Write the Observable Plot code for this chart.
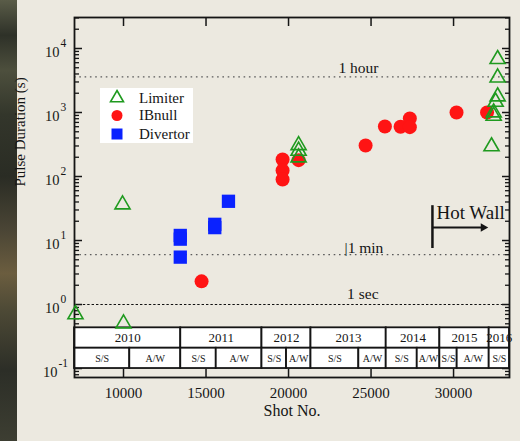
<!DOCTYPE html>
<html><head><meta charset="utf-8">
<script src="https://cdn.jsdelivr.net/npm/d3@7"></script>
<script src="https://cdn.jsdelivr.net/npm/@observablehq/plot@0.6"></script>
<style>
html,body{margin:0;padding:0;background:#ECE9E0;}
#wrap{position:relative;width:520px;height:441px;overflow:hidden;background:#ECE9E0;font-family:"Liberation Serif","Times New Roman",serif;}
#strip{position:absolute;left:0;top:0;width:17px;height:441px;
background:linear-gradient(to bottom,#5a5c48 0%,#2e3128 8%,#4d4f3d 16%,#33362b 26%,#2a2c24 40%,#4a4535 52%,#6b5d3f 62%,#4e4a36 70%,#2c2e27 84%,#3d3e32 100%);}
#chart{position:absolute;left:0;top:0;}
#legend{position:absolute;left:100px;top:88px;}
</style></head>
<body><div id="wrap"><div id="strip"></div><div id="chart"></div><div id="legend"></div></div>
<script>
// ---- data ----
const seriesNames = ["Limiter", "IBnull", "Divertor"];
const seriesColors = ["#1f9a1f", "#ff1414", "#0a22ff"];

const limiterShot = [7090, 10000, 9940, 20610, 20610, 20610, 32670, 32670, 32670, 32550, 32430, 32430, 32300];
const limiterSec  = [0.70, 0.505, 36.5, 308, 251, 198, 6800, 3500, 1780, 1465, 1000, 885, 295];

const ibnullShot = [14730, 19640, 19640, 19640, 20610, 24670, 25840, 26790, 27350, 27350, 30180, 32030];
const ibnullSec  = [2.3, 184, 124, 90, 180, 305, 604, 600, 805, 590, 1000, 1000];

const divertorShot = [13440, 13440, 13440, 15530, 15530, 16360];
const divertorSec  = [12, 10.5, 5.5, 17.9, 15.9, 41];

const refValues = [3600, 6, 1];
const refLabels = ["1 hour", "|1 min", "1 sec"];
const refLabelShot = [24240, 24570, 24500];

const years = ["2010", "2011", "2012", "2013", "2014", "2015", "2016"];
const yearStart = [7030, 13470, 18390, 21360, 25920, 29170, 32160];
const yearEnd   = [13470, 18390, 21360, 25920, 29170, 32160, 33390];
const seasonLabels = ["S/S","A/W","S/S","A/W","S/S","A/W","S/S","A/W","S/S","A/W","S/S","A/W","S/S"];
const seasonBreaks = [7030, 10380, 13470, 15620, 18390, 19880, 21360, 24260, 25920, 27800, 29170, 30220, 32160, 33390];
const tableRows = [0.4325, 0.2075, 0.1];

const hotWallLabel = "Hot Wall";
const hotWallShot = 28720, hotWallEnd = 31800, hotWallTop = 35, hotWallBottom = 7.5, hotWallArrow = 16, hotWallText = 27.4;

const xTicks = [10000, 15000, 20000, 25000, 30000];
const yTickVals = [0.1, 1, 10, 100, 1000, 10000];
const yTickExp = ["-1", "0", "1", "2", "3", "4"];

const xDomain = [7030, 33390];
const yDomain = [0.0724, 30500];

// ---- derived ----
const minorY = [];
for (let e = -2; e <= 4; e++) for (let k = 2; k <= 9; k++) {
  const v = k * Math.pow(10, e);
  if (v >= yDomain[0] && v <= yDomain[1]) minorY.push(v);
}
const limiter = limiterShot.map((s, i) => ({shot: s, sec: limiterSec[i]}));
const ibnull = ibnullShot.map((s, i) => ({shot: s, sec: ibnullSec[i]}));
const divertor = divertorShot.map((s, i) => ({shot: s, sec: divertorSec[i]}));
const yearCells = years.map((y, i) => ({label: y, start: yearStart[i], end: yearEnd[i]}));
const seasonCells = seasonLabels.map((l, i) => ({label: l, start: seasonBreaks[i], end: seasonBreaks[i + 1]}));
const yTicks = yTickVals.map((v, i) => ({v, exp: yTickExp[i]}));
const refs = refValues.map((v, i) => ({v, label: refLabels[i], shot: refLabelShot[i]}));
const hw = [{x: hotWallShot, end: hotWallEnd, top: hotWallTop, bottom: hotWallBottom, arrow: hotWallArrow, text: hotWallText, label: hotWallLabel}];

const ink = "#151515";
const fam = "'Liberation Serif', 'Times New Roman', serif";

const chart = Plot.plot({
  width: 520, height: 441,
  marginLeft: 74, marginRight: 11, marginTop: 17, marginBottom: 64,
  style: {background: "transparent", fontFamily: fam, color: ink, overflow: "visible"},
  x: {domain: xDomain, label: null},
  y: {type: "log", domain: yDomain, label: null},
  marks: [
    Plot.ruleY(refs.slice(0, 2), {y: "v", stroke: "#5a5a5a", strokeWidth: 1.3, strokeDasharray: "1.6,3.7"}),
    Plot.ruleY(refs.slice(2), {y: "v", stroke: "#111", strokeWidth: 1.1, strokeDasharray: "2.4,2"}),
    Plot.axisY(yTickVals, {anchor: "left", tickSize: -8, tickFormat: () => "", strokeWidth: 1.5, stroke: ink}),
    Plot.axisY(minorY, {anchor: "left", tickSize: -5, tickFormat: () => "", strokeWidth: 1.3, stroke: ink}),
    Plot.axisY(yTickVals, {anchor: "right", tickSize: -8, tickFormat: () => "", strokeWidth: 1.5, stroke: ink}),
    Plot.axisY(minorY, {anchor: "right", tickSize: -5, tickFormat: () => "", strokeWidth: 1.3, stroke: ink}),
    Plot.axisX(xTicks, {anchor: "bottom", tickSize: -8, tickPadding: 17.5, fontSize: 15, tickFormat: d => String(d), strokeWidth: 1.5, stroke: ink, fill: ink}),
    Plot.axisX(xTicks, {anchor: "top", tickSize: -8, tickFormat: () => "", strokeWidth: 1.5, stroke: ink}),
    // table
    Plot.rect(yearCells, {x1: "start", x2: "end", y1: tableRows[1], y2: tableRows[0], fill: "white", stroke: ink, strokeWidth: 1.8}),
    Plot.rect(seasonCells, {x1: "start", x2: "end", y1: tableRows[2], y2: tableRows[1], fill: "white", stroke: ink, strokeWidth: 1.8}),
    Plot.text(yearCells, {x: d => (d.start + d.end) / 2, y: Math.sqrt(tableRows[0] * tableRows[1]), text: "label", fontSize: 13, fill: ink}),
    Plot.text(seasonCells, {x: d => (d.start + d.end) / 2, y: Math.sqrt(tableRows[1] * tableRows[2]), text: "label", fontSize: 10, fill: ink}),
    Plot.frame({stroke: ink, strokeWidth: 1.8}),
    // y tick labels
    Plot.text(yTicks.filter(d => d.exp.length === 1), {y: "v", text: () => "10", frameAnchor: "left", textAnchor: "end", dx: -15, dy: 4, fontSize: 14.5, fill: ink}),
    Plot.text(yTicks.filter(d => d.exp.length === 1), {y: "v", text: "exp", frameAnchor: "left", textAnchor: "start", dx: -14, dy: -5.5, fontSize: 11.5, fill: ink}),
    Plot.text(yTicks.filter(d => d.exp.length > 1), {y: "v", text: () => "10", frameAnchor: "left", textAnchor: "end", dx: -17, dy: 4, fontSize: 14.5, fill: ink}),
    Plot.text(yTicks.filter(d => d.exp.length > 1), {y: "v", text: "exp", frameAnchor: "left", textAnchor: "start", dx: -16, dy: -5.5, fontSize: 11.5, fill: ink}),
    // reference labels
    Plot.text(refs.slice(0, 1), {x: "shot", y: "v", text: "label", dy: -9, fontSize: 15.5, fill: ink}),
    Plot.text(refs.slice(1, 2), {x: "shot", y: "v", text: "label", dy: -7, fontSize: 15.5, fill: ink}),
    Plot.text(refs.slice(2), {x: "shot", y: "v", text: "label", dy: -10, fontSize: 15.5, fill: ink}),
    // hot wall
    Plot.ruleX(hw, {x: "x", y1: "top", y2: "bottom", stroke: ink, strokeWidth: 2.5}),
    Plot.ruleY(hw, {y: "arrow", x1: "x", x2: "end", stroke: ink, strokeWidth: 2}),
    Plot.dot(hw, {x: "end", y: "arrow", symbol: "triangle", rotate: 90, r: 3.2, fill: ink, stroke: "none"}),
    Plot.text(hw, {x: "x", y: "text", text: "label", textAnchor: "start", dx: 4, fontSize: 19, fill: ink, clip: true}),
    // points
    Plot.dot(ibnull, {x: "shot", y: "sec", r: 7, fill: seriesColors[1], stroke: "none"}),
    Plot.dot(divertor, {x: "shot", y: "sec", symbol: "square", r: 7.5, fill: seriesColors[2], stroke: "none"}),
    Plot.dot(limiter, {x: "shot", y: "sec", symbol: "triangle", r: 5.6, fill: "none", stroke: seriesColors[0], strokeWidth: 1.6}),
    // titles
    Plot.text(["Pulse Duration (s)"], {frameAnchor: "left", dx: -54, dy: -11, rotate: -90, fontSize: 15, fill: ink}),
    Plot.text(["Shot No."], {frameAnchor: "bottom", dy: 38, fontSize: 16, fill: ink})
  ]
});
document.getElementById("chart").appendChild(chart);

// legend
const lg = d3.select("#legend").append("svg").attr("width", 93).attr("height", 55).style("display", "block");
lg.append("rect").attr("width", 93).attr("height", 55).attr("fill", "white");
const symTypes = [d3.symbolTriangle, d3.symbolCircle, d3.symbolSquare];
const symSizes = [73, 95, 121];
seriesNames.forEach((name, i) => {
  const cy = 9 + i * 18.5 + (i === 0 ? 1 : 0);
  const g = lg.append("g").attr("transform", `translate(17,${cy})`);
  g.append("path").attr("d", d3.symbol(symTypes[i], symSizes[i])())
    .attr("fill", i === 0 ? "none" : seriesColors[i])
    .attr("stroke", i === 0 ? seriesColors[0] : "none")
    .attr("stroke-width", 1.6);
  lg.append("text").attr("x", 39).attr("y", cy).attr("dy", "0.33em")
    .attr("font-family", fam).attr("font-size", 15).attr("fill", ink).text(name);
});
</script>
</body></html>
